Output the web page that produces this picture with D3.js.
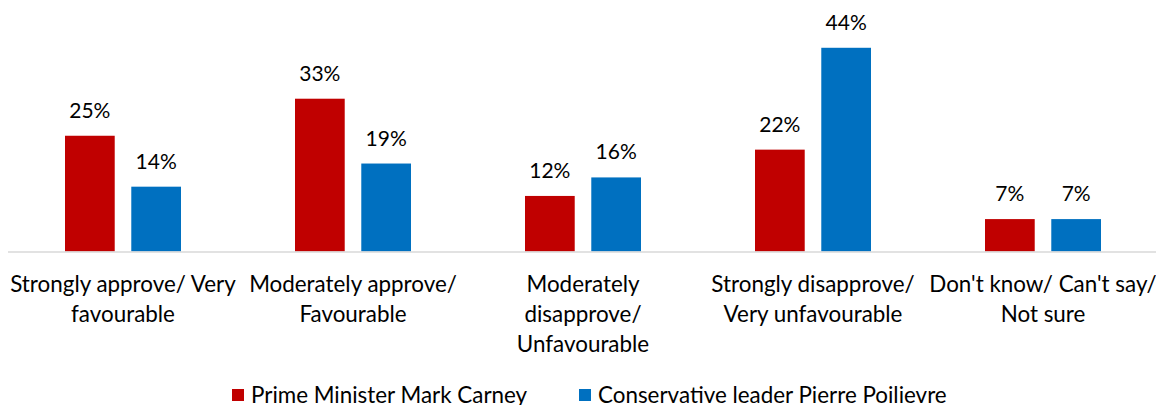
<!DOCTYPE html>
<html>
<head>
<meta charset="utf-8">
<script src="https://cdn.jsdelivr.net/npm/d3@7"></script>
<style>
  html, body { margin: 0; padding: 0; background: #fff; }
  svg { display: block; }
  text { font-family: Lato, "Open Sans", "Liberation Sans", sans-serif; fill: #000; }
</style>
</head>
<body>
<svg id="chart" width="1156" height="405"></svg>
<script>
const categories = [
  "Strongly approve/ Very favourable",
  "Moderately approve/ Favourable",
  "Moderately disapprove/ Unfavourable",
  "Strongly disapprove/ Very unfavourable",
  "Don't know/ Can't say/ Not sure"
];
const categoryLines = [
  ["Strongly approve/ Very", "favourable"],
  ["Moderately approve/", "Favourable"],
  ["Moderately", "disapprove/", "Unfavourable"],
  ["Strongly disapprove/", "Very unfavourable"],
  ["Don't know/ Can't say/", "Not sure"]
];
const seriesNames = ["Prime Minister Mark Carney", "Conservative leader Pierre Poilievre"];
const carney = [25, 33, 12, 22, 7];
const poilievre = [14, 19, 16, 44, 7];
const colors = ["#C00000", "#0070C0"];

const svg = d3.select("#chart");
const baseline = 251.5;

const x = d3.scaleBand().domain(categories).range([8, 1158]).paddingInner(0).paddingOuter(0);
const y = d3.scaleLinear().domain([0, 50]).range([baseline, 20]);
const sub = d3.scaleBand().domain([0, 1]).range([0, 116]).paddingInner(0.25).paddingOuter(0);

const series = [carney, poilievre];
const valueFont = 21;
const labelFont = 22.4;

categories.forEach((c, i) => {
  const cx = x(c) + x.bandwidth() / 2;
  const gx = cx - 58;
  series.forEach((vals, s) => {
    const v = vals[i];
    svg.append("rect")
      .attr("x", gx + sub(s))
      .attr("width", sub.bandwidth())
      .attr("y", y(v))
      .attr("height", y(0) - y(v))
      .attr("fill", colors[s]);
    svg.append("text")
      .attr("x", gx + sub(s) + sub.bandwidth() / 2)
      .attr("y", y(v) - 18)
      .attr("text-anchor", "middle")
      .style("font-size", valueFont + "px")
      .text(v + "%");
  });
});

// axis line
svg.append("line")
  .attr("x1", 8).attr("x2", 1156)
  .attr("y1", baseline + 0.5).attr("y2", baseline + 0.5)
  .attr("stroke", "#d9d9d9").attr("stroke-width", 1.5);

// category labels
categories.forEach((c, i) => {
  const cx = x(c) + x.bandwidth() / 2;
  const t = svg.append("text")
    .attr("text-anchor", "middle")
    .style("font-size", labelFont + "px");
  categoryLines[i].forEach((ln, k) => {
    t.append("tspan").attr("x", cx).attr("y", 292 + k * 30).text(ln);
  });
});

// legend
const legendX = [232, 579];
seriesNames.forEach((n, s) => {
  svg.append("rect")
    .attr("x", legendX[s]).attr("y", 389)
    .attr("width", 12).attr("height", 12)
    .attr("fill", colors[s]);
  svg.append("text")
    .attr("x", legendX[s] + 19).attr("y", 403)
    .style("font-size", labelFont + "px")
    .text(n);
});
</script>
</body>
</html>
